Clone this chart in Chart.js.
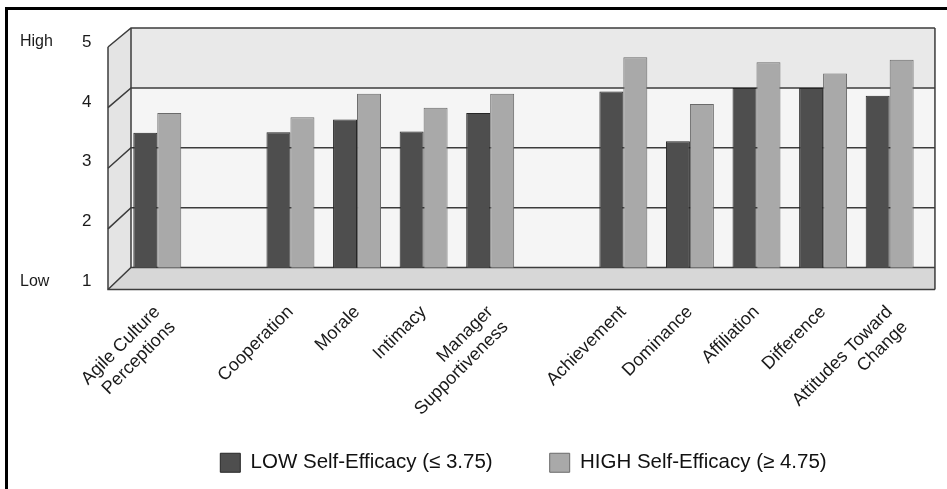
<!DOCTYPE html>
<html>
<head>
<meta charset="utf-8">
<script src="https://cdn.jsdelivr.net/npm/chart.js@4.4.1/dist/chart.umd.min.js"></script>
<style>
  html, body { margin: 0; padding: 0; background: #fff; overflow: hidden; }
  #wrap { position: relative; width: 947px; height: 489px; }
  #frame { position: absolute; left: 5px; top: 7px; width: 1000px; height: 1000px;
           border-left: 3px solid #000; border-top: 3px solid #000; pointer-events: none; }
</style>
</head>
<body>
<div id="wrap">
  <canvas id="c" width="947" height="489"></canvas>
  <div id="frame"></div>
</div>
<script>
// Scale categories; empty strings leave gaps between the groups of measures
const categories = [
  ['Agile Culture', 'Perceptions'],
  '',
  'Cooperation',
  'Morale',
  'Intimacy',
  ['Manager', 'Supportiveness'],
  '',
  'Achievement',
  'Dominance',
  'Affiliation',
  'Difference',
  ['Attitudes Toward', 'Change']
];

// Mean scores per group
const lowSelfEfficacy  = [3.25, null, 3.26, 3.47, 3.27, 3.58, null, 3.94, 3.11, 4.00, 4.00, 3.87];
const highSelfEfficacy = [3.58, null, 3.51, 3.90, 3.67, 3.90, null, 4.51, 3.73, 4.43, 4.24, 4.47];

// Rating scale
const scaleMin = 1;
const scaleMax = 5;
const scaleEndLabels = { 5: 'High', 1: 'Low' };

const seriesNames = ['LOW Self-Efficacy (\u2264 3.75)', 'HIGH Self-Efficacy (\u2265 4.75)'];

Chart.defaults.font.family = "'Liberation Sans', Arial, sans-serif";
Chart.defaults.color = '#1a1a1a';

// Draws the box-like frame (back wall, side wall, floor and grid) behind the bars
const wall3d = {
  id: 'wall3d',
  beforeDatasetsDraw(chart) {
    const { ctx, chartArea: ca, scales: { y } } = chart;
    const top = y.getPixelForValue(scaleMax);
    const bot = y.getPixelForValue(scaleMin);
    const bl = ca.left + 7;
    const br = ca.right + 12;
    const dx = 23;
    const front = py => py + 19 + (py - top) * 3 / (bot - top);

    ctx.save();
    // back wall
    ctx.fillStyle = '#f5f5f5';
    ctx.fillRect(bl, top, br - bl, bot - top);
    const y4 = y.getPixelForValue(4);
    ctx.fillStyle = '#e9e9e9';
    ctx.fillRect(bl, top, br - bl, y4 - top);

    // side wall
    ctx.fillStyle = '#e4e4e4';
    ctx.beginPath();
    ctx.moveTo(bl, top);
    ctx.lineTo(bl, bot);
    ctx.lineTo(bl - dx, front(bot));
    ctx.lineTo(bl - dx, front(top));
    ctx.closePath();
    ctx.fill();

    // floor
    ctx.fillStyle = '#d7d7d7';
    ctx.beginPath();
    ctx.moveTo(bl, bot);
    ctx.lineTo(br, bot);
    ctx.lineTo(br, front(bot));
    ctx.lineTo(bl - dx, front(bot));
    ctx.closePath();
    ctx.fill();

    // grid lines across side and back walls
    ctx.strokeStyle = '#3c3c3c';
    ctx.lineWidth = 1.5;
    y.ticks.forEach(t => {
      const py = y.getPixelForValue(t.value);
      ctx.beginPath();
      ctx.moveTo(bl - dx, front(py));
      ctx.lineTo(bl, py);
      ctx.lineTo(br, py);
      ctx.stroke();
    });

    // outer edges
    ctx.beginPath();
    ctx.moveTo(bl - dx, front(top));
    ctx.lineTo(bl - dx, front(bot));
    ctx.lineTo(br, front(bot));
    ctx.moveTo(br, top);
    ctx.lineTo(br, front(bot));
    ctx.moveTo(bl, top);
    ctx.lineTo(bl, bot);
    ctx.stroke();
    ctx.restore();
  }
};

new Chart(document.getElementById('c'), {
  type: 'bar',
  data: {
    labels: categories,
    datasets: [
      {
        label: seriesNames[0],
        data: lowSelfEfficacy,
        backgroundColor: '#4e4e4e',
        borderColor: '#262626',
        borderWidth: 1
      },
      {
        label: seriesNames[1],
        data: highSelfEfficacy,
        backgroundColor: '#a9a9a9',
        borderColor: '#6a6a6a',
        borderWidth: 1
      }
    ]
  },
  options: {
    responsive: false,
    animation: false,
    devicePixelRatio: 1,
    layout: { autoPadding: false, padding: { left: 20, right: 19, top: 28, bottom: 6 } },
    datasets: { bar: { categoryPercentage: 0.72, barPercentage: 1.0 } },
    plugins: {
      tooltip: { enabled: false },
      legend: {
        position: 'bottom',
        fullSize: false,
        labels: {
          font: { size: 20.5 },
          color: '#111',
          boxWidth: 20,
          boxHeight: 19,
          padding: 57
        }
      }
    },
    scales: {
      x: {
        grid: { display: false },
        border: { display: false },
        ticks: {
          autoSkip: false,
          maxRotation: 45,
          minRotation: 45,
          padding: 26,
          font: { size: 18 },
          color: '#1a1a1a'
        },
        afterFit: s => {
          s.height = 128;
          // let the long rotated labels run past the axis box
          s._computeLabelArea = () => undefined;
        }
      },
      y: {
        min: scaleMin,
        max: scaleMax,
        weight: 0,
        grid: { display: false },
        border: { display: false },
        ticks: {
          stepSize: 1,
          padding: 0,
          labelOffset: 14,
          crossAlign: 'far',
          font: { size: 17 },
          color: '#1a1a1a'
        },
        afterFit: s => { s.width = 42; }
      },
      yEnds: {
        position: 'left',
        min: scaleMin,
        max: scaleMax,
        weight: 10,
        grid: { display: false },
        border: { display: false },
        ticks: {
          stepSize: 1,
          padding: 0,
          labelOffset: 14,
          crossAlign: 'far',
          font: { size: 16 },
          color: '#1a1a1a',
          callback: v => scaleEndLabels[v] || ''
        },
        afterFit: s => { s.width = 62; }
      }
    }
  },
  plugins: [wall3d]
});
</script>
</body>
</html>
